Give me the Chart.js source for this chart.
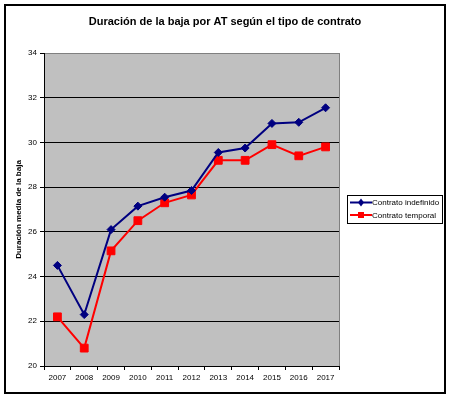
<!DOCTYPE html>
<html>
<head>
<meta charset="utf-8">
<script src="https://cdn.jsdelivr.net/npm/chart.js@4.4.0/dist/chart.umd.min.js"></script>
<style>
  body { margin: 0; background: #fff; }
  #wrap { width: 450px; height: 397px; position: relative; }
</style>
</head>
<body>
<div id="wrap"><canvas id="durChart"></canvas></div>
<script>
// values
const years = ["2007", "2008", "2009", "2010", "2011", "2012", "2013", "2014", "2015", "2016", "2017"];
const indefinido = [24.5, 22.3, 26.1, 27.15, 27.55, 27.85, 29.55, 29.75, 30.85, 30.9, 31.55];
const temporal = [22.2, 20.8, 25.15, 26.5, 27.3, 27.65, 29.2, 29.2, 29.9, 29.4, 29.8];
const seriesNames = ["Contrato indefinido", "Contrato temporal"];
const chartTitle = "Duración de la baja por AT según el tipo de contrato";
const yTitle = "Duración media de la baja";

const FONT = "'Liberation Sans', Arial, sans-serif";

// excel-ish frame, grey plot area, title and boxed legend
const excelLook = {
    id: "excelLook",
    beforeDraw(chart) {
        const { ctx, chartArea: a } = chart;
        ctx.save();
        ctx.fillStyle = "#fff";
        ctx.fillRect(0, 0, chart.width, chart.height);
        ctx.fillStyle = "#c0c0c0";
        ctx.fillRect(a.left, a.top, a.right - a.left, a.bottom - a.top);
        ctx.strokeStyle = "#000";
        ctx.lineWidth = 2;
        ctx.strokeRect(5, 5, 440, 388);
        ctx.restore();
    },
    beforeDatasetsDraw(chart) {
        const { ctx, chartArea: a } = chart;
        ctx.save();
        ctx.strokeStyle = "#808080";
        ctx.lineWidth = 1;
        ctx.beginPath();
        ctx.moveTo(a.right + 0.5, a.top);
        ctx.lineTo(a.right + 0.5, a.bottom);
        ctx.stroke();
        ctx.restore();
    },
    afterDraw(chart) {
        const ctx = chart.ctx;
        ctx.save();
        // title
        ctx.fillStyle = "#000";
        ctx.font = "bold 11px " + FONT;
        ctx.textAlign = "center";
        ctx.textBaseline = "middle";
        ctx.fillText(chartTitle, 225, 22);

        // legend
        ctx.strokeStyle = "#000";
        ctx.lineWidth = 1;
        ctx.strokeRect(347.5, 195.5, 95, 28);
        ctx.font = "8px " + FONT;
        ctx.textAlign = "left";
        chart.data.datasets.forEach((ds, i) => {
            const y = 202.5 + i * 12.5;
            ctx.strokeStyle = ds.borderColor;
            ctx.lineWidth = 2;
            ctx.beginPath();
            ctx.moveTo(350, y);
            ctx.lineTo(372, y);
            ctx.stroke();
            ctx.fillStyle = ds.borderColor;
            ctx.beginPath();
            if (ds.pointStyle === "rect") {
                ctx.rect(358, y - 3, 6, 6);
            } else {
                ctx.moveTo(361, y - 4);
                ctx.lineTo(364, y);
                ctx.lineTo(361, y + 4);
                ctx.lineTo(358, y);
                ctx.closePath();
            }
            ctx.fill();
            ctx.fillStyle = "#000";
            ctx.fillText(ds.label, 372, y + 0.5);
        });
        ctx.restore();
    }
};

const durConfig = {
    type: "line",
    data: {
        labels: years,
        datasets: [
            {
                label: seriesNames[0],
                data: indefinido,
                borderColor: "#000080",
                backgroundColor: "#000080",
                borderWidth: 2,
                pointStyle: "rectRot",
                pointRadius: 4,
                pointBorderWidth: 1,
                tension: 0,
            },
            {
                label: seriesNames[1],
                data: temporal,
                borderColor: "#ff0000",
                backgroundColor: "#ff0000",
                borderWidth: 2,
                pointStyle: "rect",
                pointRadius: 5.5,
                pointBorderWidth: 1,
                tension: 0,
            },
        ],
    },
    options: {
        responsive: true,
        maintainAspectRatio: false,
        animation: false,
        layout: { padding: { top: 53, right: 111, bottom: 0, left: 0 } },
        plugins: {
            legend: { display: false },
            title: { display: false },
            tooltip: { enabled: false },
        },
        elements: { point: { hoverRadius: 4 } },
        scales: {
            x: {
                offset: true,
                afterFit: (s) => { s.height = 31; },
                grid: {
                    offset: true,
                    drawOnChartArea: false,
                    tickLength: 4,
                    color: "#000",
                },
                border: { color: "#000" },
                ticks: {
                    color: "#000",
                    font: { family: FONT, size: 8 },
                    maxRotation: 0,
                    autoSkip: false,
                    padding: 3,
                },
            },
            y: {
                min: 20,
                max: 34,
                afterFit: (s) => { s.width = 44; },
                grid: {
                    color: (c) => (c.tick && c.tick.value === 34 ? "#808080" : "#000"),
                    tickColor: "#000",
                    tickLength: 4,
                },
                border: { color: "#000" },
                ticks: {
                    stepSize: 2,
                    color: "#000",
                    font: { family: FONT, size: 8 },
                    padding: 3,
                },
                title: {
                    display: true,
                    text: yTitle,
                    color: "#000",
                    font: { family: FONT, size: 8, weight: "bold" },
                    padding: { top: 14, bottom: 0 },
                },
            },
        },
    },
    plugins: [excelLook],
};

window.durChart = new Chart(document.getElementById("durChart"), durConfig);
</script>
</body>
</html>
